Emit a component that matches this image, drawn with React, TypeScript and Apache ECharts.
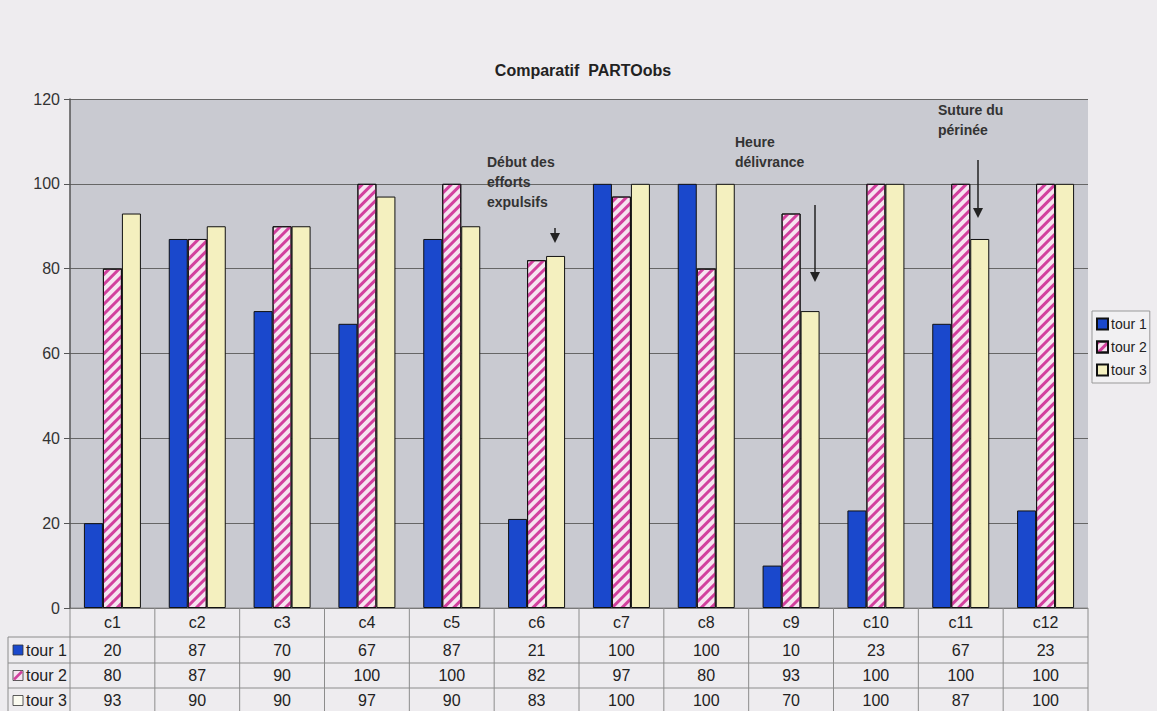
import { useEffect, useRef } from "react";
import * as echarts from "echarts";

const categories = ["c1", "c2", "c3", "c4", "c5", "c6", "c7", "c8", "c9", "c10", "c11", "c12"];
const tour1 = [20, 87, 70, 67, 87, 21, 100, 100, 10, 23, 67, 23];
const tour2 = [80, 87, 90, 100, 100, 82, 97, 80, 93, 100, 100, 100];
const tour3 = [93, 90, 90, 97, 90, 83, 100, 100, 70, 100, 87, 100];
const seriesNames = ["tour 1", "tour 2", "tour 3"];
const yMin = 0;
const yMax = 120;
const yInterval = 20;

const annotations = [
  { lines: ["Début des", "efforts", "expulsifs"], x: 487, y: 152, ax: 555, ay0: 228, ay1: 243 },
  { lines: ["Heure", "délivrance"], x: 735, y: 132, ax: 815, ay0: 205, ay1: 282 },
  { lines: ["Suture du", "périnée"], x: 938, y: 100, ax: 978, ay0: 160, ay1: 218 },
];

const FONT = "'Liberation Sans', Arial, sans-serif";
const BLUE = "#1a48cc";
const PINK_BG = "#f6e4f0";
const PINK = "#d2409e";
const YELLOW = "#f4f0bf";

export default function App() {
  const ref = useRef<HTMLDivElement>(null);

  useEffect(() => {
    const chart = echarts.init(ref.current!, null, { renderer: "svg" });
    const gridLeft = 70;
    const gridRightX = 1088;
    const gridTop = 99;
    const gridBottomY = 608;
    const W = 1157;
    const H = 711;

    const option: any = {
      animation: false,
      backgroundColor: "#eeecef",
      textStyle: { fontFamily: FONT },
      title: {
        text: "Comparatif  PARTOobs",
        left: 578,
        top: 57,
        textAlign: "center",
        textStyle: { fontSize: 16, fontWeight: "bold", color: "#222", fontFamily: FONT },
      },
      legend: {
        orient: "vertical",
        left: 1092,
        top: 311,
        itemWidth: 11,
        itemHeight: 11,
        itemGap: 9,
        padding: [6, 3, 6, 4],
        borderColor: "#999",
        borderWidth: 1,
        backgroundColor: "#f1f0f2",
        textStyle: { fontSize: 14, color: "#222", fontFamily: FONT, padding: [0, 0, 0, -2] },
        data: seriesNames.map((n) => ({ name: n, icon: "rect" })),
      },
      grid: {
        left: gridLeft,
        right: W - gridRightX,
        top: gridTop,
        bottom: H - gridBottomY,
        show: true,
        backgroundColor: "#c9cad1",
        borderWidth: 0,
      },
      xAxis: {
        type: "category",
        data: categories,
        axisLine: { show: false },
        axisTick: { show: false },
        axisLabel: { show: false },
      },
      yAxis: {
        type: "value",
        min: yMin,
        max: yMax,
        interval: yInterval,
        axisLine: { show: true, lineStyle: { color: "#555", width: 1.5 } },
        axisTick: { show: true, length: 6, lineStyle: { color: "#555" } },
        axisLabel: { fontSize: 16, color: "#333", margin: 10, fontFamily: FONT },
        splitLine: { lineStyle: { color: "#666", width: 1 } },
      },
      series: [
        {
          name: seriesNames[0],
          type: "bar",
          data: tour1,
          barWidth: 19,
          barGap: "0%",
          itemStyle: { color: BLUE, borderColor: "#111", borderWidth: 1 },
        },
        {
          name: seriesNames[1],
          type: "bar",
          data: tour2,
          barWidth: 19,
          barGap: "0%",
          itemStyle: {
            color: PINK_BG,
            borderColor: "#111",
            borderWidth: 1,
            decal: {
              symbol: "rect",
              color: PINK,
              dashArrayX: [1, 0],
              dashArrayY: [3, 4],
              rotation: -Math.PI / 4,
            },
          },
        },
        {
          name: seriesNames[2],
          type: "bar",
          data: tour3,
          barWidth: 19,
          barGap: "0%",
          itemStyle: { color: YELLOW, borderColor: "#111", borderWidth: 1 },
        },
      ],
    };
    chart.setOption(option);

    // Data table below the plot
    const colW = (gridRightX - gridLeft) / categories.length;
    const colX = categories.map((c) => chart.convertToPixel({ xAxisIndex: 0 }, c) as number);
    const rowLines = [gridBottomY, 637, 663, 688, 713];
    const rowCenters = [622.5, 650, 675.5, 700.5];
    const tableLeft = 8;
    const lineStyle = { stroke: "#8c8c8c", lineWidth: 1 };
    const g: any[] = [];

    rowLines.forEach((y, i) => {
      g.push({
        type: "line",
        shape: { x1: i === 0 ? gridLeft : tableLeft, y1: y, x2: gridRightX, y2: y },
        style: lineStyle,
        silent: true,
      });
    });
    for (let i = 0; i <= categories.length; i++) {
      const x = gridLeft + i * colW;
      g.push({
        type: "line",
        shape: { x1: x, y1: gridBottomY, x2: x, y2: H },
        style: lineStyle,
        silent: true,
      });
    }
    g.push({
      type: "line",
      shape: { x1: tableLeft, y1: rowLines[1], x2: tableLeft, y2: H },
      style: lineStyle,
      silent: true,
    });

    categories.forEach((c, i) => {
      g.push({
        type: "text",
        x: colX[i],
        y: rowCenters[0],
        style: { text: c, fill: "#222", font: `16px ${FONT}`, align: "center", verticalAlign: "middle" },
        silent: true,
      });
    });
    const rows = [tour1, tour2, tour3];
    rows.forEach((vals, r) => {
      vals.forEach((v, i) => {
        g.push({
          type: "text",
          x: colX[i],
          y: rowCenters[r + 1],
          style: { text: String(v), fill: "#222", font: `16px ${FONT}`, align: "center", verticalAlign: "middle" },
          silent: true,
        });
      });
      const sy = rowCenters[r + 1] - 5;
      const symStyle: any =
        r === 0
          ? { fill: BLUE, stroke: "#333", lineWidth: 0.8 }
          : r === 1
          ? { fill: PINK_BG, stroke: "#333", lineWidth: 0.8 }
          : { fill: "#fbfbf0", stroke: "#333", lineWidth: 0.8 };
      g.push({ type: "rect", shape: { x: 13, y: sy, width: 10, height: 10 }, style: symStyle, silent: true });
      if (r === 1) {
        g.push({
          type: "line",
          shape: { x1: 14, y1: sy + 9, x2: 22, y2: sy + 1 },
          style: { stroke: PINK, lineWidth: 2.5 },
          silent: true,
        });
      }
      g.push({
        type: "text",
        x: 26,
        y: rowCenters[r + 1],
        style: {
          text: seriesNames[r],
          fill: "#222",
          font: `16px ${FONT}`,
          align: "left",
          verticalAlign: "middle",
        },
        silent: true,
      });
    });

    annotations.forEach((a) => {
      g.push({
        type: "text",
        x: a.x,
        y: a.y,
        style: {
          text: a.lines.join("\n"),
          fill: "#333",
          font: `bold 14px ${FONT}`,
          lineHeight: 20,
          align: "left",
          verticalAlign: "top",
        },
        silent: true,
      });
      g.push({
        type: "line",
        shape: { x1: a.ax, y1: a.ay0, x2: a.ax, y2: a.ay1 - 8 },
        style: { stroke: "#222", lineWidth: 1.5 },
        silent: true,
      });
      g.push({
        type: "polygon",
        shape: {
          points: [
            [a.ax - 5, a.ay1 - 10],
            [a.ax + 5, a.ay1 - 10],
            [a.ax, a.ay1],
          ],
        },
        style: { fill: "#222" },
        silent: true,
      });
    });

    chart.setOption({ graphic: g });

    return () => chart.dispose();
  }, []);

  return (
    <div
      ref={ref}
      style={{ position: "fixed", left: 0, top: 0, width: 1157, height: 711 }}
    />
  );
}
